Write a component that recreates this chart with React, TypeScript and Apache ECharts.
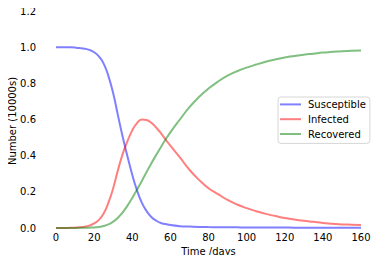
import React, { useEffect, useRef } from "react";
import * as echarts from "echarts";

const days = [0, 2.5, 5, 7.5, 10, 12.5, 15, 17.5, 20, 22.5, 25, 27.5, 30, 32.5, 35, 37.5, 40, 42.5, 45, 47.5, 50, 52.5, 55, 57.5, 60, 65, 70, 75, 80, 85, 90, 95, 100, 105, 110, 115, 120, 125, 130, 135, 140, 145, 150, 155, 160];
const susceptible = [0.9999, 0.9998, 0.9995, 0.999, 0.9976, 0.9953, 0.9918, 0.985, 0.972, 0.949, 0.909, 0.84, 0.745, 0.623, 0.503, 0.396, 0.294, 0.208, 0.14, 0.094, 0.061, 0.041, 0.028, 0.022, 0.016, 0.01, 0.008, 0.006, 0.005, 0.0045, 0.004, 0.0035, 0.003, 0.003, 0.003, 0.0025, 0.0025, 0.002, 0.002, 0.002, 0.002, 0.002, 0.002, 0.002, 0.002];
const infected = [0.0001, 0.0002, 0.0004, 0.0008, 0.002, 0.004, 0.007, 0.013, 0.025, 0.045, 0.08, 0.14, 0.22, 0.32, 0.41, 0.48, 0.54, 0.58, 0.6, 0.597, 0.582, 0.556, 0.525, 0.489, 0.455, 0.39, 0.322, 0.266, 0.22, 0.187, 0.155, 0.13, 0.11, 0.093, 0.078, 0.066, 0.055, 0.047, 0.04, 0.034, 0.028, 0.024, 0.02, 0.018, 0.016];
const recovered = [0, 0, 0.0001, 0.0002, 0.0004, 0.0007, 0.0012, 0.002, 0.003, 0.006, 0.011, 0.02, 0.035, 0.057, 0.087, 0.124, 0.166, 0.212, 0.26, 0.309, 0.357, 0.403, 0.447, 0.489, 0.529, 0.6, 0.668, 0.724, 0.771, 0.81, 0.842, 0.867, 0.887, 0.904, 0.919, 0.9315, 0.9425, 0.951, 0.958, 0.964, 0.97, 0.974, 0.978, 0.98, 0.982];
const seriesNames = ["Susceptible", "Infected", "Recovered"];
const seriesColors = ["rgba(0,0,255,0.5)", "rgba(255,0,0,0.5)", "rgba(0,128,0,0.5)"];
const xTicks = { min: 0, max: 160, interval: 20 };
const yTicks = { min: 0, max: 1.2, interval: 0.2 };
const yAxisTitle = "Number (10000s)";
const xAxisTitle = "Time /days";

const FONT = "DejaVu Sans";

export default function App() {
  const ref = useRef<HTMLDivElement>(null);
  useEffect(() => {
    if (!ref.current) return;
    const chart = echarts.init(ref.current, null, { renderer: "svg" });
    const values = [susceptible, infected, recovered];
    chart.setOption({
      animation: false,
      backgroundColor: "#ffffff",
      grid: { left: 56, right: 21, top: 11, bottom: 35, outerBoundsMode: "none", containLabel: false },
      graphic: [
        {
          type: "text",
          x: 12,
          y: 121,
          rotation: Math.PI / 2,
          style: {
            text: yAxisTitle,
            fontFamily: FONT,
            fontSize: 10,
            fill: "#000",
            align: "center",
            verticalAlign: "middle",
          },
        },
      ],
      legend: {
        orient: "vertical",
        left: 278,
        top: 97,
        width: 93,
        icon: "rect",
        itemWidth: 21,
        itemHeight: 2,
        itemGap: 0,
        padding: [0, 4, 2, 2],
        borderColor: "#d6d6d6",
        borderWidth: 1,
        borderRadius: 3,
        backgroundColor: "rgba(255,255,255,0.8)",
        data: seriesNames,
        textStyle: {
          fontFamily: FONT,
          fontSize: 10,
          color: "#000",
          lineHeight: 14.8,
          padding: [0, 0, 0, 2],
        },
      },
      xAxis: {
        type: "value",
        min: xTicks.min,
        max: xTicks.max,
        interval: xTicks.interval,
        name: xAxisTitle,
        nameLocation: "middle",
        nameGap: 17,
        nameTextStyle: { fontFamily: FONT, fontSize: 10, color: "#000" },
        axisLine: { show: false },
        axisTick: { show: false },
        splitLine: { show: false },
        axisLabel: { fontFamily: FONT, fontSize: 10, color: "#000", margin: 4 },
      },
      yAxis: {
        type: "value",
        min: yTicks.min,
        max: yTicks.max,
        interval: yTicks.interval,
        axisLine: { show: false },
        axisTick: { show: false },
        splitLine: { show: false },
        axisLabel: {
          fontFamily: FONT,
          fontSize: 10,
          color: "#000",
          margin: 20,
          formatter: (v: number) => v.toFixed(1),
        },
      },
      series: seriesNames.map((name, i) => ({
        name,
        type: "line",
        showSymbol: false,
        symbol: "none",
        smooth: 0.5,
        color: seriesColors[i],
        lineStyle: { width: 2, color: seriesColors[i] },
        data: days.map((d, j) => [d, values[i][j]]),
      })),
    });
    return () => chart.dispose();
  }, []);
  return <div ref={ref} style={{ width: 382, height: 263, margin: -8 }} />;
}
